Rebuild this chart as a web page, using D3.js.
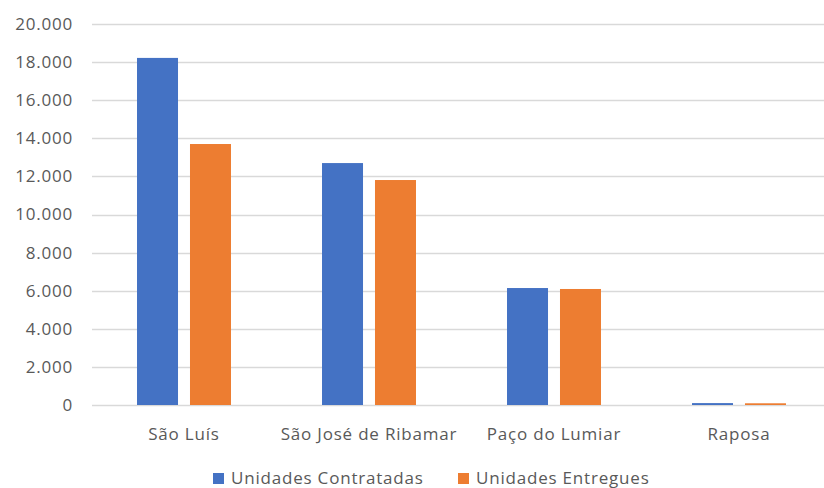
<!DOCTYPE html>
<html>
<head>
<meta charset="utf-8">
<script src="https://cdn.jsdelivr.net/npm/d3@7"></script>
<style>
  body { margin: 0; background: #fff; }
  text { font-family: "Open Sans", "Liberation Sans", sans-serif; fill: #595959; letter-spacing: 0.8px; }
</style>
</head>
<body>
<div class="chart"></div>
<script>
const categories = ['São Luís', 'São José de Ribamar', 'Paço do Lumiar', 'Raposa'];
const seriesNames = ['Unidades Contratadas', 'Unidades Entregues'];
const contratadas = [18220, 12700, 6140, 100];
const entregues = [13700, 11810, 6090, 90];
const yTicks = [0, 2000, 4000, 6000, 8000, 10000, 12000, 14000, 16000, 18000, 20000];
const colors = ['#4472C4', '#ED7D31'];

const width = 824, height = 488;

const svg = d3.select('.chart')
    .append('svg')
    .attr('width', width)
    .attr('height', height);

const rows = categories.map((c, i) => ({ cat: c, values: [contratadas[i], entregues[i]] }));

// scales
const x0 = d3.scaleBand()
    .domain(categories)
    .range([91.5, 831.5])
    .paddingInner(0.492)
    .paddingOuter(0.246);

const x1 = d3.scaleBand()
    .domain(seriesNames)
    .range([0, x0.bandwidth()])
    .paddingInner(0.226);

const y = d3.scaleLinear().domain([0, 20000]).range([405, 24]);

const fmt = d => d === 0 ? '0' : d3.format(',')(d).replace(/,/g, '.');

// gridlines
svg.append('g')
    .selectAll('line')
    .data(yTicks)
    .join('line')
    .attr('x1', 92)
    .attr('x2', width)
    .attr('y1', d => Math.round(y(d)) + 0.5)
    .attr('y2', d => Math.round(y(d)) + 0.5)
    .attr('stroke', '#D9D9D9')
    .attr('stroke-width', 1.3);

// y labels
svg.append('g')
    .selectAll('text')
    .data(yTicks)
    .join('text')
    .attr('x', 73)
    .attr('y', d => y(d))
    .attr('dy', '0.35em')
    .attr('text-anchor', 'end')
    .style('font-size', '17px')
    .text(fmt);

// bars
svg.append('g')
    .selectAll('g')
    .data(rows)
    .join('g')
    .attr('transform', d => 'translate(' + x0(d.cat) + ',0)')
    .selectAll('rect')
    .data(d => d.values.map((v, i) => ({ key: seriesNames[i], value: v, i: i })))
    .join('rect')
    .attr('x', d => x1(d.key))
    .attr('y', d => y(d.value))
    .attr('width', x1.bandwidth())
    .attr('height', d => y(0) - y(d.value))
    .attr('fill', d => colors[d.i]);

// x labels
svg.append('g')
    .selectAll('text')
    .data(categories)
    .join('text')
    .attr('x', d => x0(d) + x0.bandwidth() / 2)
    .attr('y', 440)
    .attr('text-anchor', 'middle')
    .style('font-size', '17px')
    .text(d => d);

// legend
const legendX = [213, 458];
const legend = svg.append('g')
    .selectAll('g')
    .data(seriesNames)
    .join('g')
    .attr('transform', (d, i) => 'translate(' + legendX[i] + ',0)');

legend.append('rect')
    .attr('x', 0)
    .attr('y', 473)
    .attr('width', 11)
    .attr('height', 11)
    .attr('fill', (d, i) => colors[i]);

legend.append('text')
    .attr('x', 18)
    .attr('y', 484)
    .style('font-size', '17px')
    .text(d => d);
</script>
</body>
</html>
